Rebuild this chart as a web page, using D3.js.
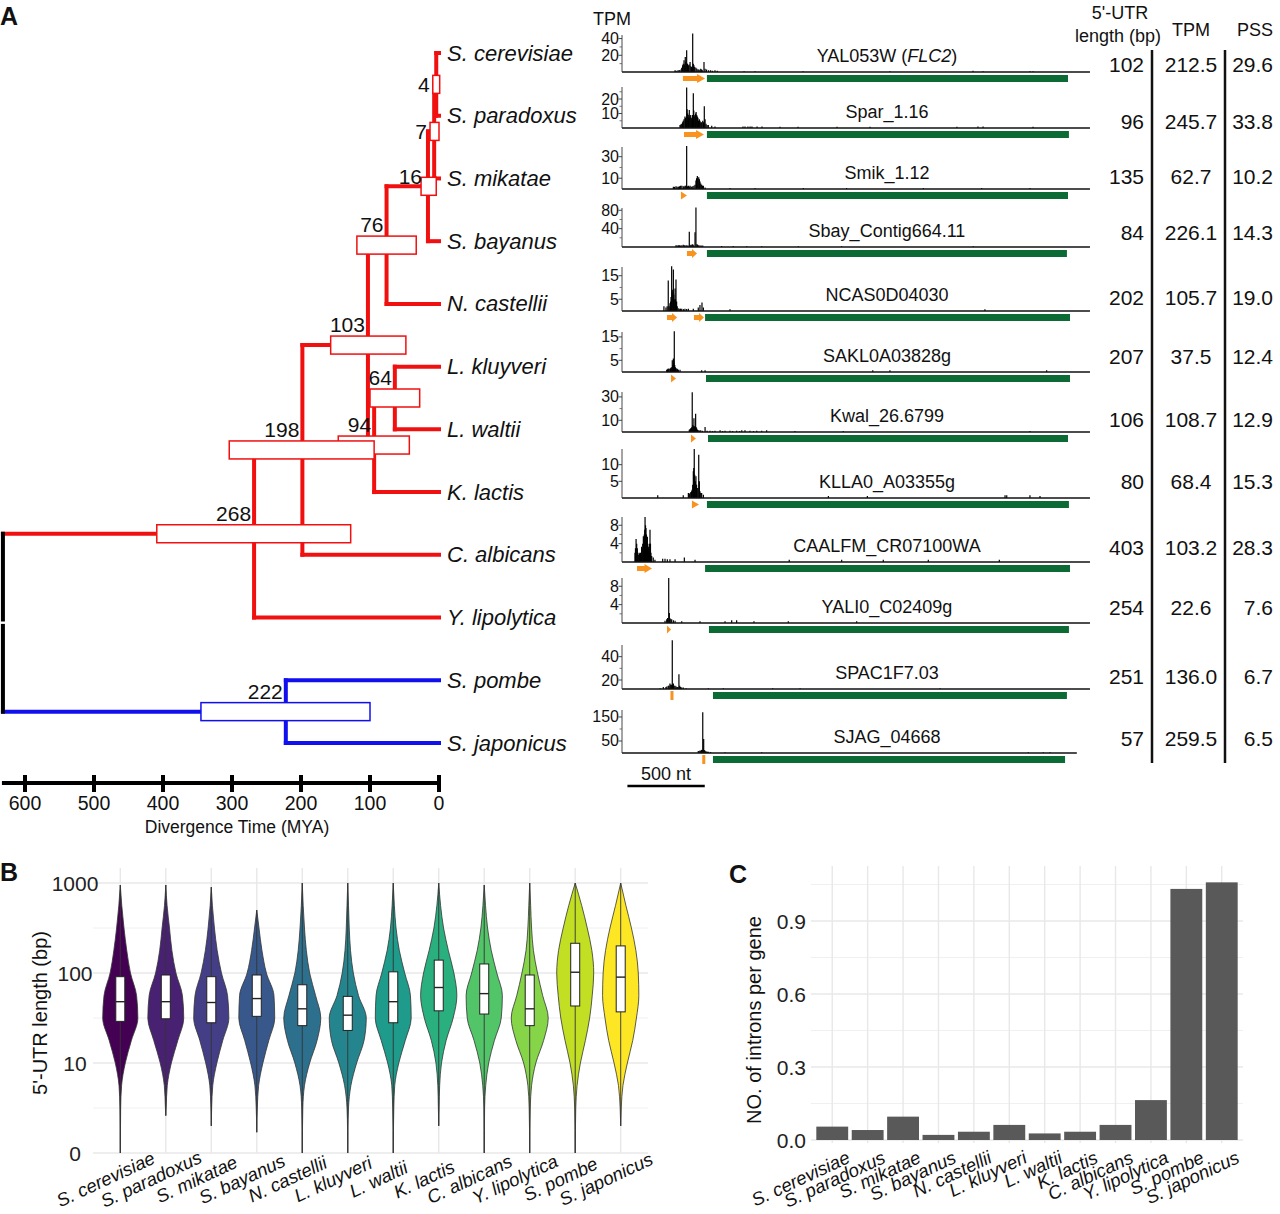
<!DOCTYPE html>
<html><head><meta charset="utf-8">
<script src="https://cdn.jsdelivr.net/npm/d3@7"></script>
<style>
body{margin:0;background:#fff}
svg{display:block}
text{font-family:"Liberation Sans",Arial,Helvetica,sans-serif;fill:#111}
</style>
</head><body>
<svg id="fig" width="1280" height="1214"></svg>
<script>
// ================= DATA =================
const species = ["S. cerevisiae","S. paradoxus","S. mikatae","S. bayanus","N. castellii","L. kluyveri","L. waltii","K. lactis","C. albicans","Y. lipolytica","S. pombe","S. japonicus"];
const tipClade = ["sac","sac","sac","sac","sac","sac","sac","sac","sac","sac","sch","sch"];

// tree internal nodes (ages in MYA, CI box in MYA)
const nodeNames   = ["n4","n7","n16","n76","n64","n94","n103","n198","n268","n222"];
const nodeAges    = [4,7,16,76,64,94,103,198,268,222];
const nodeCILow   = [-1,0,4,33,28,43,48,94,128,100];
const nodeCIHigh  = [9,13,26,119,100,146,157,304,409,345];
const nodeChildren= [["S. cerevisiae","S. paradoxus"],["n4","S. mikatae"],["n7","S. bayanus"],["n16","N. castellii"],
                     ["L. kluyveri","L. waltii"],["n64","K. lactis"],["n76","n94"],["n103","C. albicans"],
                     ["n198","Y. lipolytica"],["S. pombe","S. japonicus"]];
const nodeClade   = ["sac","sac","sac","sac","sac","sac","sac","sac","sac","sch"];
const nodeLabelMode = ["left","left","corner","above","above","above","above","above","above","above"];
const rootAge = 632;
const rootChildren = ["n268","n222"];
const timeTicks = [600,500,400,300,200,100,0];

// tracks
const geneIds = ["YAL053W","Spar_1.16","Smik_1.12","Sbay_Contig664.11","NCAS0D04030","SAKL0A03828g","Kwal_26.6799","KLLA0_A03355g","CAALFM_CR07100WA","YALI0_C02409g","SPAC1F7.03","SJAG_04668"];
const geneAlias = ["FLC2","","","","","","","","","","",""];
const trackYMin = [0,0,0,0,0,0,0,0,0,0,12.3,0];
const trackYMax = [44.3,28.3,39,85,18.7,17.1,34.2,14.7,9.8,9.8,50,179];
const trackTicks = [[20,40],[10,20],[10,30],[40,80],[5,15],[5,15],[10,30],[5,10],[4,8],[4,8],[20,40],[50,150]];
const trackMinorTicks = [[10,30],[5,15,25],[20],[20,60],[10],[10],[20],[],[2,6],[2,6],[30],[100]];
const trackLenNt = [3025,3025,3025,3025,3025,3025,3025,3025,3025,3025,3025,2940];
const cdsStart = [549,549,549,549,537,543,556,549,537,562,588,588];
const cdsEnd   = [2883,2889,2883,2876,2896,2896,2883,2889,2896,2889,2876,2864];
// TSS clusters: [startNt, endNt, kind]
const tssMarks = [
  [[394,537,"arrow"]],
  [[401,530,"arrow"]],
  [[381,420,"tri"]],
  [[420,485,"arrow"]],
  [[291,356,"arrow"],[465,530,"arrow"]],
  [[317,349,"tri"]],
  [[446,478,"tri"]],
  [[452,498,"tri"]],
  [[97,194,"arrow"]],
  [[291,317,"tri"]],
  [[313,333,"tick"]],
  [[517,540,"tick"]]
];
// coverage [position nt, TPM]
const cov1 = [[343,2],[350,1.5],[362,2],[370,2.5],[381,3],[386,5],[392,8],[396,10],[401,14],[405,9],[409,18],[413,12],[418,26],[423,10],[429,8],[434,9],[440,12],[445,7],[450,6],[453,5],[457,46],[461,10],[465,8],[470,6],[478,5],[484,4],[491,3],[497,3],[503,2],[509,4],[515,3],[520,2],[530,12],[537,4],[547,3],[560,2],[573,2],[585,1.5],[601,2],[616,1.5],[789,1],[860,1],[1170,1],[1732,1],[2269,1.5],[2334,1],[2637,1],[2657,1]];
const cov2 = [[375,2],[380,2.5],[386,3],[392,4],[396,5],[401,6],[407,8],[410,7],[414,5],[418,28],[421,13],[425,10],[428,9],[431,7],[435,12.5],[439,8],[444,9],[448,7],[452,6],[456,9],[461,24],[464,12],[467,8],[471,9],[476,10],[479,11],[483,9],[487,8],[491,7],[495,5],[500,6],[504,5],[509,4],[515,4],[522,5],[527,4],[532,15],[537,6],[543,3],[550,2],[558,2],[580,1.5],[601,1],[782,1],[795,1],[814,1],[828,1],[840,1],[873,1],[905,1],[1021,0.8],[1138,0.8],[1390,0.8],[1603,0.8],[2165,0.8],[2301,1],[2334,1],[2657,0.8]];
const cov3 = [[332,2],[340,2],[349,2.5],[356,2],[364,2],[371,2.5],[379,3],[387,3],[396,2.5],[401,2],[407,3],[412,3],[418,40],[424,2.5],[429,3],[435,2],[440,3],[447,2],[452,2],[458,2.5],[465,3],[472,4],[478,8],[482,10],[487,12],[491,9],[496,11],[500,9],[504,7],[509,5],[515,4],[520,3],[526,3],[537,1.5],[698,1],[860,1],[1172,1],[1452,1],[1948,1],[2325,1],[2637,1]];
const cov4 = [[349,4],[356,3],[364,4],[371,4],[379,3],[387,4],[396,5],[405,4],[414,4],[420,3],[427,3],[435,33],[441,4],[446,5],[452,5],[457,6],[463,4],[472,32],[478,86],[484,6],[489,5],[496,4],[504,3],[512,3],[522,3],[644,2],[719,2],[806,1.5],[903,1.5],[1140,1.5],[1420,1.5],[2271,1.5]];
const cov5 = [[271,2],[284,1.5],[292,2],[299,13],[305,2],[310,3.3],[314,4],[317,6],[321,19],[324,8],[328,9],[332,17.6],[335,7],[338,5],[343,9.6],[346,5],[349,13.4],[353,4],[357,2],[363,1.2],[370,1],[378,1],[386,1],[397,0.8],[407,1],[418,0.8],[429,1],[461,1],[493,1.5],[504,2.5],[517,3.6],[526,1.5],[698,0.7],[2346,0.7]];
const cov6 = [[289,1],[294,1.2],[299,1.5],[304,1.3],[310,1.5],[314,1.6],[319,2],[325,5],[328,3],[332,5.8],[335,4],[338,17.4],[341,3],[345,2],[349,1.5],[354,1.5],[359,1.2],[364,1],[375,1],[515,0.8],[537,0.8],[1621,0.8],[1732,0.8],[2745,0.8]];
const cov7 = [[435,2],[440,2.5],[444,3],[447,3.5],[450,4],[454,34],[458,6],[461,5],[465,11.7],[468,5],[470,4],[473,4],[476,15.7],[480,4],[483,3],[488,2],[493,1.5],[500,1.2],[509,1.5],[520,1],[537,4.3],[550,1],[569,1],[585,0.8],[601,1],[634,1.5],[650,0.8],[666,1],[698,1],[715,0.8],[741,1],[760,0.8],[774,1.5],[795,1.5],[827,1],[850,0.8],[871,1],[903,1],[935,1.5],[1118,0.8],[1430,0.8],[2637,0.8]];
const cov8 = [[231,0.8],[396,0.8],[429,1.5],[435,1.2],[440,1.5],[445,1.8],[450,2],[453,2.5],[457,4],[461,8],[464,9],[467,14.7],[470,7],[474,5],[478,6.5],[482,4],[485,3],[490,3],[496,13],[500,5],[504,2],[509,1.5],[515,1.5],[526,1],[1334,0.6],[1586,0.6],[2476,0.8],[2487,0.8],[2637,0.8],[2702,0.6]];
const cov9 = [[84,2],[87,3],[91,5],[95,4],[99,3],[103,2],[108,1.5],[112,1.8],[116,2],[119,2],[123,1.5],[127,3.3],[130,3],[134,4],[138,5.6],[141,5],[144,6],[147,7],[149,9.8],[152,8],[155,7.4],[158,6],[160,4],[164,5.5],[167,4],[170,3.3],[173,3],[176,2],[179,4],[181,7],[184,4],[187,2],[192,1.3],[202,1],[213,0.5],[263,0.7],[278,0.7],[293,0.6],[310,0.6],[343,0.6],[403,1],[472,0.5],[1081,0.5],[1420,0.5],[1689,0.5],[1980,0.5],[2439,0.5]];
const cov10 = [[278,0.5],[289,0.8],[295,1.1],[302,9.8],[306,2.2],[312,1],[321,0.8],[332,0.6],[343,0.5],[386,0.4],[504,0.4],[666,0.4],[709,0.6],[741,0.6],[853,0.4],[1075,0.4],[1517,0.4]];
const cov11 = [[246,13],[267,14],[284,14],[290,14.5],[299,15],[304,15],[310,17],[315,16],[321,16],[325,54],[328,16],[332,17],[337,15],[343,15],[350,14.5],[357,14],[362,14],[368,25],[373,15],[379,14],[386,13.5],[396,13.5],[414,13],[558,13],[655,13],[974,13],[1151,13],[2056,13]];
const cov12 = [[493,8],[498,7],[504,10],[509,9],[515,12],[518,14],[522,170],[528,58],[531,12],[535,10],[540,7],[547,6],[553,5],[560,5],[573,4],[666,3],[903,3],[2626,3],[2723,3],[2767,3]];
const trackCoverage = [cov1,cov2,cov3,cov4,cov5,cov6,cov7,cov8,cov9,cov10,cov11,cov12];
const scaleBarNt = 500;

// table
const utrLength = [102,96,135,84,202,207,106,80,403,254,251,57];
const geneTPM   = [212.5,245.7,62.7,226.1,105.7,37.5,108.7,68.4,103.2,22.6,136.0,259.5];
const genePSS   = [29.6,33.8,10.2,14.3,19.0,12.4,12.9,15.3,28.3,7.6,6.7,6.5];

// panel B: 5'-UTR length distributions
const utrTicks = [1,10,100,1000];
const utrTickLabels = ["0","10","100","1000"];
const utrQ1  = [29,31,28,33,26,23,28,38,35,26,43,37];
const utrMed = [48,48,47,52,40,34,48,69,59,40,102,90];
const utrQ3  = [91,95,91,95,74,55,103,139,126,95,214,200];
const utrMin = [1,2.6,2,1.7,1,1,1,2,1,1,1,2];
const utrMax = [950,950,900,500,1000,1000,1000,1000,950,1000,1000,1000];
const violinLevels = [0,0.25,0.5,0.75,1,1.25,1.5,1.75,2,2.25,2.5,2.75,3];
const violinDensity = [
  [0.01,0.01,0.02,0.07,0.27,0.6,0.95,0.88,0.55,0.35,0.2,0.08,0.01],
  [0,0,0.02,0.08,0.3,0.65,0.97,0.9,0.55,0.33,0.2,0.07,0.01],
  [0,0.01,0.02,0.08,0.3,0.62,0.95,0.88,0.55,0.32,0.17,0.06,0.01],
  [0,0.01,0.03,0.1,0.33,0.65,0.97,0.93,0.52,0.28,0.12,0.02,0],
  [0.01,0.01,0.03,0.12,0.4,0.8,1.0,0.72,0.4,0.22,0.12,0.05,0.01],
  [0.01,0.01,0.04,0.17,0.48,0.88,1.0,0.58,0.3,0.15,0.08,0.04,0.01],
  [0.01,0.01,0.03,0.08,0.3,0.65,0.97,0.93,0.62,0.33,0.15,0.06,0.01],
  [0,0.01,0.02,0.05,0.15,0.4,0.78,0.98,0.82,0.52,0.26,0.1,0.01],
  [0.01,0.01,0.02,0.08,0.24,0.55,0.92,0.98,0.68,0.38,0.18,0.07,0.01],
  [0.01,0.01,0.03,0.1,0.33,0.75,1.0,0.7,0.42,0.2,0.1,0.05,0.01],
  [0.01,0.01,0.03,0.1,0.28,0.55,0.78,0.92,1.0,0.9,0.65,0.35,0.1],
  [0,0.01,0.03,0.12,0.36,0.65,0.85,0.98,0.95,0.82,0.58,0.28,0.07]
];

// panel C
const intronsPerGene = [0.055,0.041,0.096,0.021,0.034,0.062,0.027,0.034,0.062,0.164,1.032,1.059];
const intronTicks = [0,0.3,0.6,0.9];

// ================= LAYOUT / STYLE =================
const svg = d3.select("#fig");
const RED = "#f01010", BLUE = "#1010ee";
const cladeColor = {sac: RED, sch: BLUE};
const GREEN = "#0c6b35", ORANGE = "#f7931e";

function label(g, x, y, s, size, opt = {}) {
  const t = g.append("text").attr("x", x).attr("y", y).attr("font-size", size).text(s);
  if (opt.anchor) t.attr("text-anchor", opt.anchor);
  if (opt.italic) t.attr("font-style", "italic");
  if (opt.bold) t.attr("font-weight", "bold");
  if (opt.fill) t.style("fill", opt.fill);
  return t;
}

// panel letters
label(svg, 0, 25, "A", 25, {bold: true});
label(svg, 0, 881, "B", 25, {bold: true});
label(svg, 729, 883, "C", 25, {bold: true});

// ================= PANEL A: TREE =================
const gTree = svg.append("g");
const xT = d3.scaleLinear().domain([0, 600]).range([439, 25]);
const yTip = d3.scaleLinear().domain([0, species.length - 1]).range([53, 743]);
const P = {};
species.forEach((s, i) => P[s] = {x: xT(0), y: yTip(i), clade: tipClade[i]});
nodeNames.forEach((n, i) => {
  const a = P[nodeChildren[i][0]], b = P[nodeChildren[i][1]];
  P[n] = {x: xT(nodeAges[i]), y: (a.y + b.y) / 2, clade: nodeClade[i]};
});
const root = {x: xT(rootAge), y: (P[rootChildren[0]].y + P[rootChildren[1]].y) / 2};
const BW = 4;
const gBr = gTree.append("g").attr("stroke-width", BW).attr("fill", "none").attr("stroke-linecap", "square");
nodeNames.forEach((n, i) => {
  const p = P[n];
  const ch = nodeChildren[i].map(k => P[k]);
  gBr.append("line").attr("x1", p.x).attr("x2", p.x).attr("y1", ch[0].y).attr("y2", ch[1].y).attr("stroke", cladeColor[p.clade]);
  ch.forEach(c => gBr.append("line").attr("x1", p.x).attr("x2", c.x).attr("y1", c.y).attr("y2", c.y).attr("stroke", cladeColor[c.clade]));
});
rootChildren.forEach(k => {
  const c = P[k];
  gBr.append("line").attr("x1", root.x).attr("x2", c.x).attr("y1", c.y).attr("y2", c.y).attr("stroke", cladeColor[c.clade]);
});
gTree.append("line").attr("x1", root.x).attr("x2", root.x).attr("y1", P[rootChildren[0]].y - BW / 2).attr("y2", root.y - 1.2)
  .attr("stroke", "#000").attr("stroke-width", BW);
gTree.append("line").attr("x1", root.x).attr("x2", root.x).attr("y1", root.y + 1.2).attr("y2", P[rootChildren[1]].y + BW / 2)
  .attr("stroke", "#000").attr("stroke-width", BW);

// CI boxes & node labels
const BOXH = 18;
nodeNames.forEach((n, i) => {
  const p = P[n];
  const x0 = xT(nodeCIHigh[i]), x1 = xT(nodeCILow[i]);
  gTree.append("rect").attr("x", x0).attr("y", p.y - BOXH / 2).attr("width", x1 - x0).attr("height", BOXH)
    .attr("fill", "#fff").attr("stroke", cladeColor[p.clade]).attr("stroke-width", 1.5);
});
nodeNames.forEach((n, i) => {
  const p = P[n];
  const x0 = xT(nodeCIHigh[i]);
  let lx, ly;
  if (nodeLabelMode[i] === "left") { lx = x0 - 3; ly = p.y + 7.5; }
  else if (nodeLabelMode[i] === "corner") { lx = x0 + 1; ly = p.y - BOXH / 2 + 7; }
  else { lx = p.x - 3; ly = p.y - BOXH / 2 - 4; }
  label(gTree, lx, ly, String(nodeAges[i]), 21, {anchor: "end"});
});
// tip labels
species.forEach((s, i) => label(gTree, P[s].x + 8, P[s].y + 7.5, s, 22, {italic: true}));

// time axis
const axY = 783;
gTree.append("line").attr("x1", xT(rootAge) - 1).attr("x2", xT(0) + 2).attr("y1", axY).attr("y2", axY).attr("stroke", "#000").attr("stroke-width", 4);
timeTicks.forEach(t => {
  gTree.append("line").attr("x1", xT(t)).attr("x2", xT(t)).attr("y1", axY - 8).attr("y2", axY + 9).attr("stroke", "#000").attr("stroke-width", 4);
  label(gTree, xT(t), 810, String(t), 19.5, {anchor: "middle"});
});
label(gTree, 237, 833, "Divergence Time (MYA)", 17.5, {anchor: "middle"});

// ================= PANEL A: TRACKS =================
const gTr = svg.append("g");
const trackBase = [72,128,189,247,311,372,432,498,562,623,689,753];
const trackTop  = [35,87,147,208,267,332,392,449,517,578,645,710];
const xNt = d3.scaleLinear().domain([0, 3000]).range([622, 1086.1]);
label(gTr, 612, 25, "TPM", 18, {anchor: "middle"});
geneIds.forEach((id, i) => {
  const base = trackBase[i];
  const y = d3.scaleLinear().domain([trackYMin[i], trackYMax[i]]).range([base, trackTop[i]]);
  const g = gTr.append("g");
  // coverage bars
  g.selectAll("line.cov").data(trackCoverage[i]).enter().append("line").attr("class", "cov")
    .attr("x1", d => xNt(d[0])).attr("x2", d => xNt(d[0]))
    .attr("y1", base).attr("y2", d => y(d[1]))
    .attr("stroke", "#000").attr("stroke-width", 1.2);
  // baseline
  g.append("line").attr("x1", xNt(0)).attr("x2", xNt(trackLenNt[i])).attr("y1", base).attr("y2", base)
    .attr("stroke", "#111").attr("stroke-width", 1.4);
  // y axis
  g.append("line").attr("x1", xNt(0)).attr("x2", xNt(0)).attr("y1", base).attr("y2", trackTop[i])
    .attr("stroke", "#333").attr("stroke-width", 0.9);
  trackMinorTicks[i].forEach(t => g.append("line").attr("x1", xNt(0) - 2.5).attr("x2", xNt(0)).attr("y1", y(t)).attr("y2", y(t)).attr("stroke", "#555").attr("stroke-width", 0.8));
  trackTicks[i].forEach(t => {
    g.append("line").attr("x1", xNt(0) - 3.5).attr("x2", xNt(0)).attr("y1", y(t)).attr("y2", y(t)).attr("stroke", "#333").attr("stroke-width", 0.9);
    label(g, xNt(0) - 3, y(t) + 5.5, String(t), 16, {anchor: "end"});
  });
  // CDS
  g.append("rect").attr("x", xNt(cdsStart[i])).attr("y", base + 3).attr("width", xNt(cdsEnd[i]) - xNt(cdsStart[i])).attr("height", 7).attr("fill", GREEN);
  // TSS marks
  const cy = base + 6.5;
  tssMarks[i].forEach(m => {
    const a = xNt(m[0]), b = xNt(m[1]);
    if (m[2] === "tick") {
      g.append("rect").attr("x", (a + b) / 2 - 1.5).attr("y", cy - 4.5).attr("width", 3).attr("height", 9).attr("fill", ORANGE);
    } else if (m[2] === "tri") {
      g.append("path").attr("d", `M${a},${cy - 4}L${b},${cy}L${a},${cy + 4}Z`).attr("fill", ORANGE);
    } else {
      const h = Math.min(8, (b - a) * 0.5);
      g.append("path").attr("d", `M${a},${cy - 2.5}L${b - h},${cy - 2.5}L${b - h},${cy - 4.5}L${b},${cy}L${b - h},${cy + 4.5}L${b - h},${cy + 2.5}L${a},${cy + 2.5}Z`).attr("fill", ORANGE);
    }
  });
  // gene label
  const t = g.append("text").attr("x", 887).attr("y", base - 10.5).attr("text-anchor", "middle").attr("font-size", 18);
  if (geneAlias[i]) {
    t.append("tspan").text(id + " (");
    t.append("tspan").attr("font-style", "italic").text(geneAlias[i]);
    t.append("tspan").text(")");
  } else t.text(id);
});
// scale bar
gTr.append("line").attr("x1", xNt(35)).attr("x2", xNt(35 + scaleBarNt)).attr("y1", 786).attr("y2", 786).attr("stroke", "#000").attr("stroke-width", 2.5);
label(gTr, xNt(35 + scaleBarNt / 2), 780, scaleBarNt + " nt", 18, {anchor: "middle"});

// ================= PANEL A: TABLE =================
const gTab = svg.append("g");
const tableRowY = [64.5,121,176.5,232.5,297,356,419.5,481.5,547,607.5,676,738.5];
label(gTab, 1120, 19, "5'-UTR", 18, {anchor: "middle"});
label(gTab, 1118, 42, "length (bp)", 18, {anchor: "middle"});
label(gTab, 1191, 36, "TPM", 18, {anchor: "middle"});
label(gTab, 1255, 36, "PSS", 18, {anchor: "middle"});
utrLength.forEach((v, i) => {
  label(gTab, 1144, tableRowY[i] + 7.5, String(v), 21, {anchor: "end"});
  label(gTab, 1191, tableRowY[i] + 7.5, geneTPM[i].toFixed(1), 21, {anchor: "middle"});
  label(gTab, 1273, tableRowY[i] + 7.5, genePSS[i].toFixed(1), 21, {anchor: "end"});
});
[1152, 1225].forEach(x => gTab.append("line").attr("x1", x).attr("x2", x).attr("y1", 50).attr("y2", 763).attr("stroke", "#111").attr("stroke-width", 2.5));

// ================= PANEL B: VIOLINS =================
const gB = svg.append("g");
const bX = d3.scalePoint().domain(species).range([93, 648]).padding(0.6);
const bY = d3.scaleLog().domain([1, 1000]).range([1153, 883]);
const GRID = "#e8e8e8";
[Math.pow(10, 0.5), Math.pow(10, 1.5), Math.pow(10, 2.5)].forEach(v =>
  gB.append("line").attr("x1", 93).attr("x2", 648).attr("y1", bY(v)).attr("y2", bY(v)).attr("stroke", "#f0f0f0").attr("stroke-width", 1));
utrTicks.forEach(v =>
  gB.append("line").attr("x1", 93).attr("x2", 648).attr("y1", bY(v)).attr("y2", bY(v)).attr("stroke", GRID).attr("stroke-width", 1.4));
species.forEach(s =>
  gB.append("line").attr("x1", bX(s)).attr("x2", bX(s)).attr("y1", 868).attr("y2", 1153).attr("stroke", GRID).attr("stroke-width", 1.4));
utrTicks.forEach((v, i) => label(gB, 75, bY(v) + 7.5, utrTickLabels[i], 21, {anchor: "middle", fill: "#222"}));
gB.append("text").attr("transform", "translate(47,1013) rotate(-90)").attr("text-anchor", "middle").attr("font-size", 20).text("5'-UTR length (bp)");

const HALF = 18.5;
species.forEach((s, i) => {
  const cx = bX(s);
  const col = d3.interpolateViridis(i / (species.length - 1));
  const lmin = Math.log10(utrMin[i]), lmax = Math.log10(utrMax[i]);
  const pts = [{l: lmin, w: 0}];
  violinLevels.forEach((l, j) => { if (l > lmin + 0.03 && l < lmax - 0.03) pts.push({l, w: violinDensity[i][j]}); });
  pts.push({l: lmax, w: 0});
  pts.sort((a, b) => b.l - a.l);
  const area = d3.area().curve(d3.curveMonotoneY)
    .y(d => bY(Math.pow(10, d.l)))
    .x0(d => cx - d.w * HALF).x1(d => cx + d.w * HALF);
  gB.append("path").attr("d", area(pts)).attr("fill", col).attr("stroke", "#333").attr("stroke-width", 0.8);
  gB.append("line").attr("x1", cx).attr("x2", cx).attr("y1", bY(utrMin[i])).attr("y2", bY(utrMax[i])).attr("stroke", "#333").attr("stroke-width", 0.9);
  gB.append("rect").attr("x", cx - 4.5).attr("width", 9).attr("y", bY(utrQ3[i])).attr("height", bY(utrQ1[i]) - bY(utrQ3[i]))
    .attr("fill", "#fff").attr("stroke", "#222").attr("stroke-width", 1);
  gB.append("line").attr("x1", cx - 4.5).attr("x2", cx + 4.5).attr("y1", bY(utrMed[i])).attr("y2", bY(utrMed[i])).attr("stroke", "#222").attr("stroke-width", 1.4);
  gB.append("text").attr("transform", `translate(${cx - 12},1185) rotate(-25)`).attr("text-anchor", "middle")
    .attr("font-size", 18.5).attr("font-style", "italic").text(s);
});

// ================= PANEL C: BARS =================
const gC = svg.append("g");
const cX = d3.scaleBand().domain(species).range([811, 1243]).paddingInner(0.1).paddingOuter(0.15);
const cY = d3.scaleLinear().domain([0, 1.1]).range([1140, 1140 - 1.1 * 243.3]);
[0.15, 0.45, 0.75, 1.05].forEach(v =>
  gC.append("line").attr("x1", 811).attr("x2", 1243).attr("y1", cY(v)).attr("y2", cY(v)).attr("stroke", "#f0f0f0").attr("stroke-width", 1));
intronTicks.forEach(v =>
  gC.append("line").attr("x1", 811).attr("x2", 1243).attr("y1", cY(v)).attr("y2", cY(v)).attr("stroke", GRID).attr("stroke-width", 1.4));
species.forEach(s => {
  const cx = cX(s) + cX.bandwidth() / 2;
  gC.append("line").attr("x1", cx).attr("x2", cx).attr("y1", 866).attr("y2", 1143).attr("stroke", GRID).attr("stroke-width", 1.4);
});
intronTicks.forEach(v => label(gC, 806, cY(v) + 7.5, v.toFixed(1), 21, {anchor: "end", fill: "#222"}));
gC.append("text").attr("transform", "translate(761,1020) rotate(-90)").attr("text-anchor", "middle").attr("font-size", 20).text("NO. of introns per gene");
gC.selectAll("rect.bar").data(species).enter().append("rect").attr("class", "bar")
  .attr("x", d => cX(d)).attr("width", cX.bandwidth())
  .attr("y", (d, i) => cY(intronsPerGene[i])).attr("height", (d, i) => cY(0) - cY(intronsPerGene[i]))
  .attr("fill", "#595959");
species.forEach(s => {
  const cx = cX(s) + cX.bandwidth() / 2;
  gC.append("text").attr("transform", `translate(${cx + 19},1162) rotate(-25)`).attr("text-anchor", "end")
    .attr("font-size", 18.5).attr("font-style", "italic").text(s);
});
</script>
</body></html>
